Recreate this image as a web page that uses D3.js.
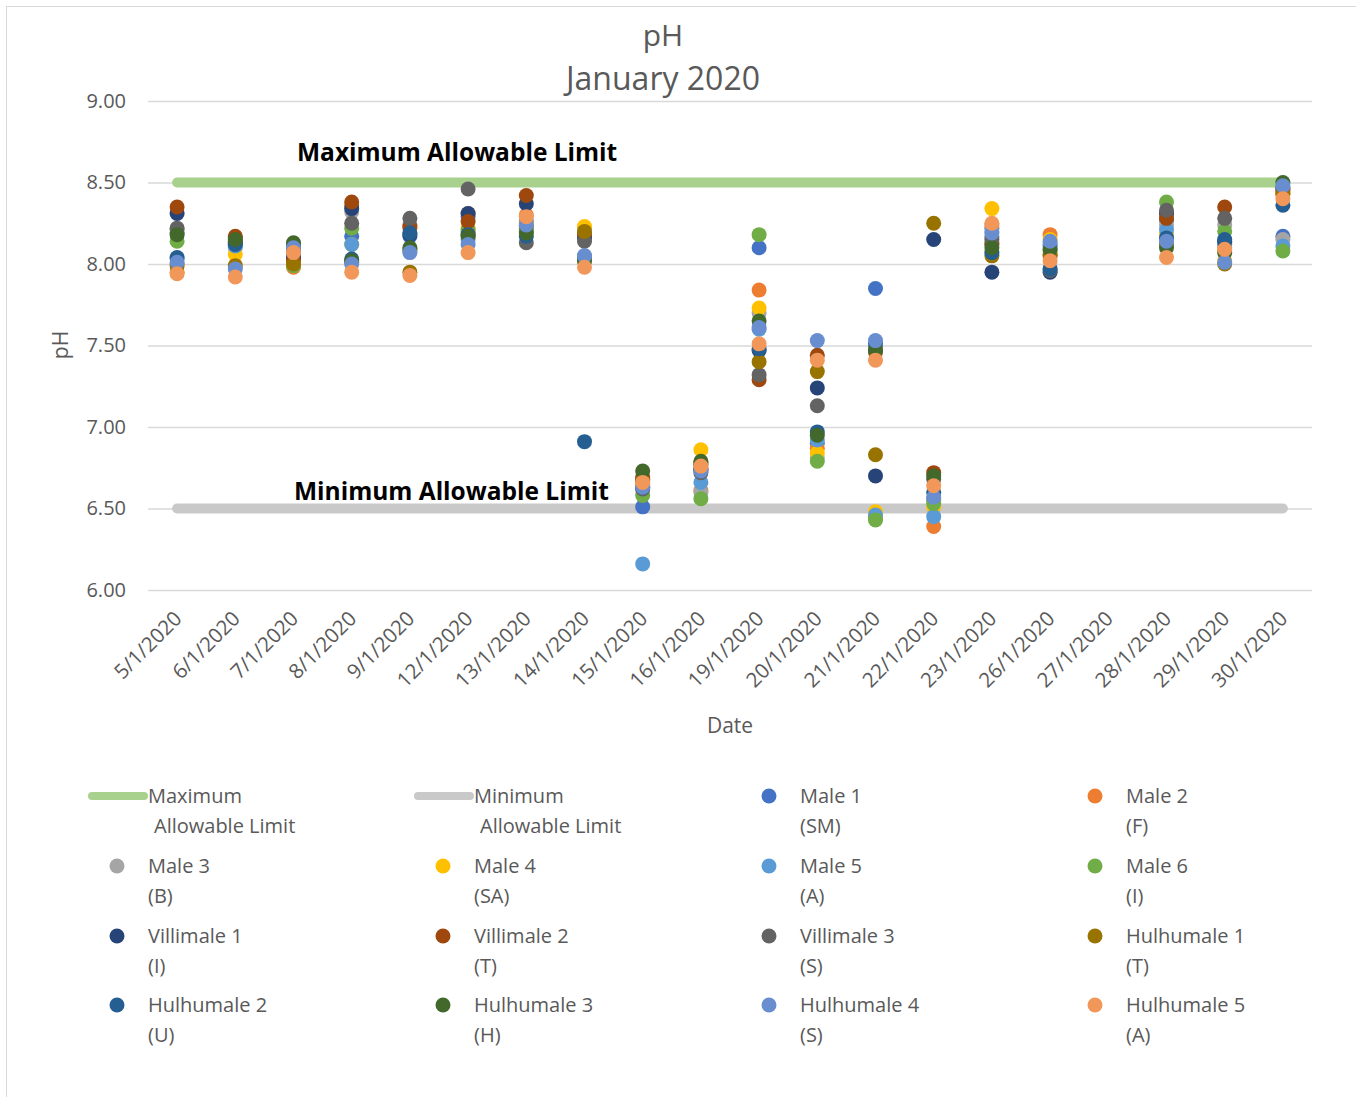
<!DOCTYPE html>
<html><head><meta charset="utf-8">
<script src="https://cdn.jsdelivr.net/npm/d3@7"></script>
<style>body{margin:0;background:#fff;} svg{display:block;font-family:"Open Sans",sans-serif;}</style>
</head><body>
<script>
const dates = ["5/1/2020","6/1/2020","7/1/2020","8/1/2020","9/1/2020","12/1/2020","13/1/2020","14/1/2020","15/1/2020","16/1/2020","19/1/2020","20/1/2020","21/1/2020","22/1/2020","23/1/2020","26/1/2020","27/1/2020","28/1/2020","29/1/2020","30/1/2020"];
const yTicks = [6.0, 6.5, 7.0, 7.5, 8.0, 8.5, 9.0];
const maxLimit = 8.5;
const minLimit = 6.5;
const seriesNames = ["Male 1","Male 2","Male 3","Male 4","Male 5","Male 6","Villimale 1","Villimale 2","Villimale 3","Hulhumale 1","Hulhumale 2","Hulhumale 3","Hulhumale 4","Hulhumale 5"];
const seriesCodes = ["(SM)","(F)","(B)","(SA)","(A)","(I)","(I)","(T)","(S)","(T)","(U)","(H)","(S)","(A)"];
const seriesColors = ["#4472C4","#ED7D31","#A5A5A5","#FFC000","#5B9BD5","#70AD47","#264478","#9E480E","#636363","#997300","#255E91","#43682B","#698ED0","#F1975A"];
const male1 =      [8.19,8.12,8.09,8.17,8.17,8.29,8.26,8.04,6.51,6.74,8.10,6.90,7.85,6.56,8.22,8.12,null,8.27,8.13,8.17];
const male2 =      [7.95,8.16,7.98,8.36,8.22,8.31,8.30,8.17,6.64,6.61,7.84,6.87,6.45,6.39,8.24,8.18,null,8.29,8.10,8.43];
const male3 =      [8.21,8.10,8.05,8.32,8.24,8.20,8.22,8.22,6.62,6.60,7.70,6.81,6.44,6.55,8.20,8.10,null,8.24,8.24,8.15];
const male4 =      [8.00,8.06,8.00,8.12,8.09,8.22,8.25,8.23,6.65,6.86,7.73,6.84,6.48,6.51,8.34,8.15,null,8.18,8.02,8.44];
const male5 =      [8.03,8.11,8.10,8.12,8.08,8.15,8.20,8.05,6.16,6.66,7.60,6.92,6.46,6.45,8.17,8.11,null,8.21,8.12,8.11];
const male6 =      [8.14,8.13,7.99,8.22,8.09,8.21,8.21,8.02,6.58,6.56,8.18,6.79,6.43,6.53,8.13,8.08,null,8.38,8.20,8.08];
const villimale1 = [8.31,8.14,8.04,8.34,8.18,8.31,8.37,8.16,6.68,6.77,7.47,7.24,6.70,8.15,7.95,7.95,null,8.31,8.14,8.47];
const villimale2 = [8.35,8.17,8.02,8.38,8.23,8.26,8.42,8.19,6.69,6.75,7.29,7.44,7.46,6.72,8.12,8.05,null,8.28,8.35,8.45];
const villimale3 = [8.22,8.13,8.12,8.25,8.28,8.46,8.13,8.14,6.62,6.72,7.32,7.13,7.48,6.68,8.15,7.96,null,8.33,8.28,8.46];
const hulhumale1 = [7.99,7.99,8.00,8.01,7.95,8.18,8.23,8.20,6.67,6.78,7.40,7.34,6.83,8.25,8.05,8.06,null,8.12,8.00,8.43];
const hulhumale2 = [8.04,8.12,8.08,8.03,8.19,8.18,8.17,6.91,6.63,6.74,7.48,6.97,7.51,6.60,8.07,7.97,null,8.16,8.15,8.36];
const hulhumale3 = [8.18,8.15,8.13,8.02,8.10,8.17,8.19,8.02,6.73,6.79,7.65,6.95,7.47,6.70,8.10,8.09,null,8.10,8.07,8.50];
const hulhumale4 = [8.01,7.97,8.10,8.00,8.07,8.12,8.24,8.05,6.63,6.73,7.61,7.53,7.53,6.57,8.19,8.14,null,8.14,8.01,8.48];
const hulhumale5 = [7.94,7.92,8.07,7.95,7.93,8.07,8.29,7.98,6.66,6.76,7.51,7.41,7.41,6.64,8.25,8.02,null,8.04,8.09,8.40];
const seriesValues = [male1,male2,male3,male4,male5,male6,villimale1,villimale2,villimale3,hulhumale1,hulhumale2,hulhumale3,hulhumale4,hulhumale5];

const W = 1356, H = 1097;
const svg = d3.select("body").append("svg").attr("width", W).attr("height", H);
const txt = "#595959";
svg.append("rect").attr("x",6.5).attr("y",6.5).attr("width",1400).attr("height",1200).attr("fill","#fff").attr("stroke","#D9D9D9");

const x = d3.scaleBand().domain(dates).range([148, 1312]);
const y = d3.scaleLinear().domain([6, 9]).range([590, 101]);

// title
svg.append("text").attr("x",663).attr("y",46).attr("text-anchor","middle").attr("font-size",30).attr("fill",txt).text("pH");
svg.append("text").attr("x",663).attr("y",90).attr("text-anchor","middle").attr("font-size",32).attr("fill",txt).text("January 2020");

// grid + y axis
const yAxis = d3.axisLeft(y).tickValues(yTicks).tickFormat(d3.format(".2f")).tickSize(-(1312-148)).tickPadding(22);
const gy = svg.append("g").attr("transform","translate(148,0)").call(yAxis);
gy.select(".domain").remove();
gy.selectAll(".tick line").attr("stroke","#D9D9D9").attr("stroke-width",1.3);
gy.selectAll(".tick text").attr("font-size",20).attr("fill",txt).attr("font-family","Open Sans");

// x axis labels
const xAxis = d3.axisBottom(x).tickSize(0).tickPadding(0);
const gx = svg.append("g").attr("transform","translate(0,590)").call(xAxis);
gx.select(".domain").remove();
gx.selectAll(".tick text").attr("font-size",20.5).attr("fill",txt).attr("font-family","Open Sans")
  .attr("text-anchor","end").attr("dy","0").attr("y",0)
  .attr("transform","translate(6,30) rotate(-45)");

svg.append("text").attr("x",730).attr("y",733).attr("text-anchor","middle").attr("font-size",21).attr("fill",txt).text("Date");
svg.append("text").attr("transform","translate(68,345) rotate(-90)").attr("text-anchor","middle").attr("font-size",21).attr("fill",txt).text("pH");

// limit lines
const xc = d => x(d) + x.bandwidth()/2;
const first = dates[0], last = dates[dates.length-1];
svg.append("line").attr("x1",xc(first)).attr("x2",xc(last)).attr("y1",y(maxLimit)).attr("y2",y(maxLimit))
  .attr("stroke","#A9D18E").attr("stroke-width",10).attr("stroke-linecap","round");
svg.append("line").attr("x1",xc(first)).attr("x2",xc(last)).attr("y1",y(minLimit)).attr("y2",y(minLimit))
  .attr("stroke","#C9C9C9").attr("stroke-width",10).attr("stroke-linecap","round");
svg.append("text").attr("x",297).attr("y",y(maxLimit)-22).attr("font-size",24.5).attr("font-weight","bold").attr("fill","#000").text("Maximum Allowable Limit");
svg.append("text").attr("x",294).attr("y",y(minLimit)-9).attr("font-size",24.5).attr("font-weight","bold").attr("fill","#000").text("Minimum Allowable Limit");

// points
seriesValues.forEach((vals, i) => {
  svg.append("g").selectAll("circle")
    .data(vals.map((v, j) => ({d: dates[j], v})).filter(p => p.v != null))
    .join("circle")
    .attr("cx", p => xc(p.d)).attr("cy", p => y(p.v)).attr("r", 7.5)
    .attr("fill", seriesColors[i]);
});

// legend
const colX = [88, 414, 762, 1088];
const rowY = [796, 866, 936, 1005];
const lg = svg.append("g").attr("font-size",20).attr("fill",txt);
function legText(xp, yp, l1, l2, indent) {
  const t = lg.append("text").attr("x", xp).attr("y", yp + 7);
  t.append("tspan").attr("x", xp).text(l1);
  t.append("tspan").attr("x", xp + (indent||0)).attr("dy", 30).text(l2);
}
lg.append("line").attr("x1",colX[0]+4).attr("x2",colX[0]+56).attr("y1",rowY[0]).attr("y2",rowY[0]).attr("stroke","#A9D18E").attr("stroke-width",8).attr("stroke-linecap","round");
legText(148, rowY[0], "Maximum", "Allowable Limit", 6);
lg.append("line").attr("x1",colX[1]+4).attr("x2",colX[1]+56).attr("y1",rowY[0]).attr("y2",rowY[0]).attr("stroke","#C9C9C9").attr("stroke-width",8).attr("stroke-linecap","round");
legText(474, rowY[0], "Minimum", "Allowable Limit", 6);
seriesNames.forEach((n, i) => {
  const k = i + 2;
  const col = k % 4, row = Math.floor(k / 4);
  const cxp = [117, 443, 769, 1095][col];
  lg.append("circle").attr("cx", cxp).attr("cy", rowY[row]).attr("r", 7.5).attr("fill", seriesColors[i]);
  legText(cxp + 31, rowY[row], n, seriesCodes[i], 0);
});
</script>
</body></html>
